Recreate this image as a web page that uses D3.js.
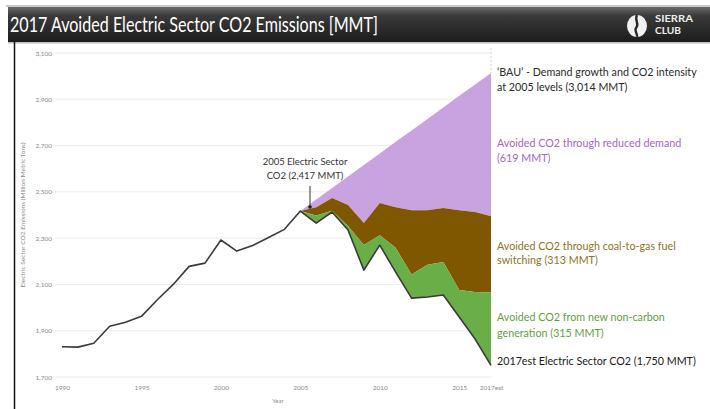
<!DOCTYPE html>
<html><head><meta charset="utf-8">
<script src="https://cdn.jsdelivr.net/npm/d3@7"></script>
<style>html,body{margin:0;padding:0;background:#fff;}svg{display:block;}</style>
</head><body>
<svg id="chart" width="710" height="409"></svg>
<script>
// ---- data ----
const categories = ["1990","1991","1992","1993","1994","1995","1996","1997","1998","1999","2000","2001","2002","2003","2004","2005","2006","2007","2008","2009","2010","2011","2012","2013","2014","2015","2016","2017est"];
const xTickLabels = ["1990","1995","2000","2005","2010","2015","2017est"];
const yTicks = [1700,1900,2100,2300,2500,2700,2900,3100];
// actual electric sector CO2 (MMT)
const actualCO2 = [1831,1829,1846,1919,1937,1962,2034,2100,2178,2192,2292,2244,2268,2303,2338,2417,2365,2413,2335,2162,2270,2153,2041,2046,2054,1959,1864,1750];
// 2005..2017 stacked avoided amounts
const avoidedYears = ["2005","2006","2007","2008","2009","2010","2011","2012","2013","2014","2015","2016","2017est"];
const nonCarbonAvoided = [0,33,5,17,108,43,105,102,139,143,117,203,315];
const coalGasAvoided   = [0,36,55,91,95,139,176,278,236,233,345,346,330];
const bauCO2 = [2417,2467,2517,2566,2616,2666,2716,2765,2815,2865,2915,2964,3014];

const svg = d3.select("#chart");
const FONT = "Lato, 'Open Sans', sans-serif";

// ---- title bar ----
const defs = svg.append("defs");
const g1 = defs.append("linearGradient").attr("id","bar").attr("x1",0).attr("y1",0).attr("x2",0).attr("y2",1);
g1.append("stop").attr("offset","0%").attr("stop-color","#6a6a6a");
g1.append("stop").attr("offset","25%").attr("stop-color","#3a3a3a");
g1.append("stop").attr("offset","100%").attr("stop-color","#1c1c1c");
svg.append("rect").attr("x",6).attr("y",5).attr("width",704).attr("height",2).attr("fill","#c8c8c8");
svg.append("rect").attr("x",8).attr("y",7).attr("width",702).attr("height",35).attr("fill","url(#bar)");
svg.append("rect").attr("x",8).attr("y",42).attr("width",702).attr("height",1.5).attr("fill","#bdbdbd");
svg.append("line").attr("x1",14.5).attr("x2",14.5).attr("y1",42).attr("y2",409).attr("stroke","#111").attr("stroke-width",1.5);

svg.append("text").attr("x",10).attr("y",32).attr("fill","#fff")
  .attr("font-family",FONT).attr("font-size",20.5)
  .attr("textLength",368).attr("lengthAdjust","spacingAndGlyphs")
  .text("2017 Avoided Electric Sector CO2 Emissions [MMT]");

// logo
const logo = svg.append("g");
logo.append("ellipse").attr("cx",637).attr("cy",26).attr("rx",10).attr("ry",11).attr("fill","#f2f2f2");
logo.append("path").attr("d","M637,15 C634,20 640,24 636,28 C634,31 638,34 637,37").attr("stroke","#2a2a2a").attr("stroke-width",2.4).attr("fill","none");
logo.append("text").attr("x",655).attr("y",22).attr("fill","#eee").attr("font-family",FONT).attr("font-weight","bold").attr("font-size",10)
  .attr("textLength",38).attr("lengthAdjust","spacingAndGlyphs").text("SIERRA");
logo.append("text").attr("x",655).attr("y",34).attr("fill","#eee").attr("font-family",FONT).attr("font-weight","bold").attr("font-size",10)
  .attr("textLength",26).attr("lengthAdjust","spacingAndGlyphs").text("CLUB");

// ---- scales ----
const x = d3.scalePoint().domain(categories).range([62,491]);
const y = d3.scaleLinear().domain([1700,3100]).range([377,53]);

// gridlines + y labels
svg.append("g").selectAll("line").data(yTicks).join("line")
  .attr("x1",55).attr("x2",492).attr("y1",d=>y(d)).attr("y2",d=>y(d))
  .attr("stroke","#ececec").attr("stroke-width",1);
const yAxis = svg.append("g").attr("transform","translate(54,0)")
  .call(d3.axisLeft(y).tickValues(yTicks).tickSize(0).tickPadding(2).tickFormat(d3.format(",")));
yAxis.select(".domain").remove();
yAxis.selectAll("text").attr("font-family",FONT).attr("font-size",6.5).attr("fill","#8a8a8a");

// x axis
const xAxis = svg.append("g").attr("transform","translate(0,382)")
  .call(d3.axisBottom(x).tickValues(xTickLabels).tickSize(0).tickPadding(3));
xAxis.select(".domain").remove();
xAxis.selectAll("text").attr("font-family",FONT).attr("font-size",6.5).attr("fill","#8a8a8a");
svg.append("text").attr("x",278).attr("y",403).attr("text-anchor","middle").attr("font-family",FONT).attr("font-size",6).attr("fill","#8a8a8a").text("Year");
svg.append("text").attr("transform","translate(25,215) rotate(-90)").attr("text-anchor","middle")
  .attr("font-family",FONT).attr("font-size",6.5).attr("fill","#8a8a8a")
  .text("Electric Sector CO2 Emissions (Million Metric Tons)");

// ---- stacked areas ----
const off = categories.indexOf("2005");
const rows = avoidedYears.map((yr,i)=>{
  const a = actualCO2[off+i];
  const g = a + nonCarbonAvoided[i];
  const b = g + coalGasAvoided[i];
  return {yr, a, g, b, bau: bauCO2[i]};
});
const area = (lo,hi)=>d3.area().x(d=>x(d.yr)).y0(d=>y(d[lo])).y1(d=>y(d[hi]));
svg.append("path").datum(rows).attr("d",area("b","bau")).attr("fill","#c9a3df");
svg.append("path").datum(rows).attr("d",area("g","b")).attr("fill","#7f5700");
svg.append("path").datum(rows).attr("d",area("a","g")).attr("fill","#6aae48");

// dashed 2017 marker
svg.append("line").attr("x1",x("2017est")).attr("x2",x("2017est")).attr("y1",48).attr("y2",y(bauCO2[bauCO2.length-1]))
  .attr("stroke","#cfcfcf").attr("stroke-dasharray","2,2").attr("stroke-width",1);

// actual line
svg.append("path").datum(actualCO2).attr("fill","none").attr("stroke","#3a3a3a").attr("stroke-width",1.6)
  .attr("stroke-linejoin","round")
  .attr("d",d3.line().x((d,i)=>x(categories[i])).y(d=>y(d)));

// ---- annotation ----
const ann = svg.append("g").attr("font-family",FONT).attr("font-size",9.5).attr("fill","#333").attr("text-anchor","middle");
ann.append("text").attr("x",305).attr("y",165).text("2005 Electric Sector");
ann.append("text").attr("x",305).attr("y",179).text("CO2 (2,417 MMT)");
svg.append("line").attr("x1",310).attr("x2",310).attr("y1",186).attr("y2",206).attr("stroke","#333").attr("stroke-width",1);
svg.append("circle").attr("cx",310).attr("cy",207).attr("r",1.8).attr("fill","#222");

// right labels
const labels = [
  {t:"\u2018BAU\u2019 - Demand growth and CO2 intensity", y:76, c:"#2a2a2a"},
  {t:"at 2005 levels (3,014 MMT)", y:91, c:"#2a2a2a"},
  {t:"Avoided CO2 through reduced demand", y:147, c:"#a267c9"},
  {t:"(619 MMT)", y:162, c:"#a267c9"},
  {t:"Avoided CO2 through coal-to-gas fuel", y:250, c:"#8c7426"},
  {t:"switching (313 MMT)", y:264, c:"#8c7426"},
  {t:"Avoided CO2 from new non-carbon", y:321, c:"#5f9f3f"},
  {t:"generation (315 MMT)", y:337, c:"#5f9f3f"},
  {t:"2017est Electric Sector CO2 (1,750 MMT)", y:365, c:"#1a1a1a"}
];
const lab = svg.append("g").attr("font-family",FONT);
const lt = lab.selectAll("text").data(labels).join("text").attr("x",497).attr("y",d=>d.y)
  .attr("fill",d=>d.c).attr("font-size",10).text(d=>d.t);
const w0 = lt.nodes()[0].getComputedTextLength();
lt.attr("font-size", 10*200/w0);
</script>
</body></html>
